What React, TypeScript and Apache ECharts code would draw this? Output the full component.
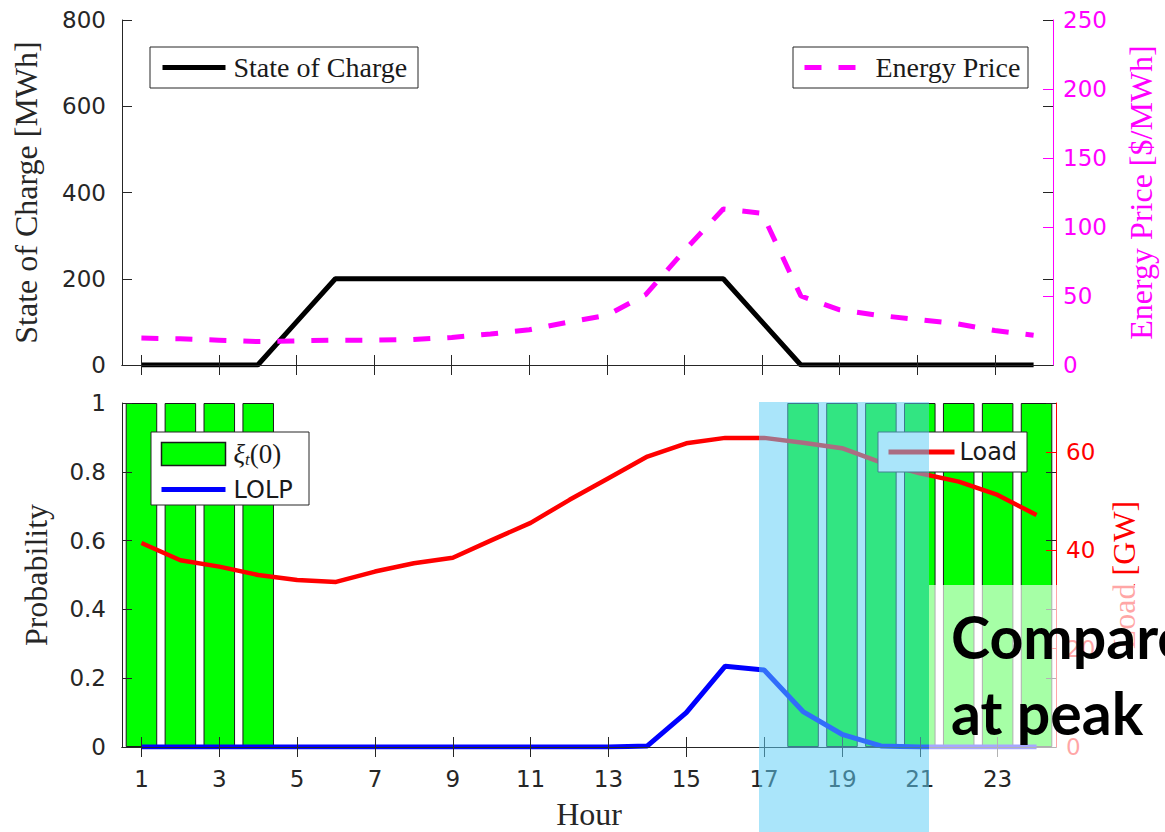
import React, { useEffect, useRef } from 'react';
import * as echarts from 'echarts';

const hours = ['1', '2', '3', '4', '5', '6', '7', '8', '9', '10', '11', '12', '13', '14', '15', '16', '17', '18', '19', '20', '21', '22', '23', '24'];
const stateOfCharge = [0, 0, 0, 0, 100, 200, 200, 200, 200, 200, 200, 200, 200, 200, 200, 200, 100, 0, 0, 0, 0, 0, 0, 0];
const energyPrice = [19.5, 19, 18, 17, 17.5, 18, 18, 18.5, 20, 22.5, 25.5, 31, 36, 51, 83, 113, 110, 50, 40, 36, 33, 30, 25, 21.5];
const xiZero = [1, 1, 1, 1, null, null, null, null, null, null, null, null, null, null, null, null, null, 1, 1, 1, 1, 1, 1, 1];
const lolp = [0, 0, 0, 0, 0, 0, 0, 0, 0, 0, 0, 0, 0, 0.003, 0.1, 0.235, 0.224, 0.103, 0.037, 0.003, 0, 0, 0, 0];
const load = [41.5, 38, 36.7, 35, 34, 33.6, 35.7, 37.4, 38.5, 42.1, 45.6, 50.3, 54.7, 59.1, 61.8, 62.9, 62.9, 61.9, 60.8, 57.9, 55.7, 54, 51.3, 47.2];

const DARK = '#262626';
const SANS = 'DejaVu Sans';
const SERIF = 'Liberation Serif';

function xAxisFor(gridIndex: number, position: string, showLabels: boolean, name?: string) {
  return {
    type: 'category',
    gridIndex,
    position,
    data: hours,
    boundaryGap: true,
    z: 3,
    axisLine: { show: true, lineStyle: { color: DARK, width: 1 } },
    axisTick: { show: true, inside: true, length: 10, interval: 1, alignWithLabel: true, lineStyle: { color: DARK, width: 1 } },
    axisLabel: { show: showLabels, interval: 1, margin: 20, fontFamily: SANS, fontSize: 23, color: DARK },
    splitLine: { show: false },
    name: name || '',
    nameLocation: 'middle',
    nameGap: 51,
    nameTextStyle: { fontFamily: SERIF, fontSize: 32, color: DARK },
  };
}

function yAxisFor(opts: any) {
  const color = opts.color || DARK;
  return {
    type: 'value',
    gridIndex: opts.gridIndex,
    position: opts.position,
    min: opts.min,
    max: opts.max,
    interval: opts.interval,
    z: 3,
    axisLine: { show: opts.showLine !== false, lineStyle: { color, width: 1 } },
    axisTick: { show: true, inside: true, length: 10, lineStyle: { color: opts.tickColor || color, width: 1 } },
    axisLabel: {
      show: opts.showLabels !== false,
      margin: opts.margin,
      fontFamily: SANS,
      fontSize: 23,
      color,
      formatter: opts.formatter,
    },
    splitLine: { show: false },
    name: opts.name || '',
    nameLocation: 'middle',
    nameGap: opts.nameGap,
    nameRotate: 90,
    nameTextStyle: { fontFamily: SERIF, fontSize: 32, color },
  };
}

export default function App() {
  const ref = useRef<HTMLDivElement>(null);

  useEffect(() => {
    if (!ref.current) return;
    const chart = echarts.init(ref.current, null, { renderer: 'svg' });

    const option: any = {
      animation: false,
      backgroundColor: '#ffffff',
      grid: [
        { left: 122, top: 20, width: 934, height: 345 },
        { left: 122, top: 403, width: 934, height: 344 },
      ],
      xAxis: [
        xAxisFor(0, 'bottom', false),
        xAxisFor(0, 'top', false),
        xAxisFor(1, 'bottom', true, 'Hour'),
        xAxisFor(1, 'top', false),
      ],
      yAxis: [
        yAxisFor({ gridIndex: 0, position: 'left', min: 0, max: 800, interval: 200, margin: 16, name: 'State of Charge [MWh]', nameGap: 80 }),
        yAxisFor({ gridIndex: 0, position: 'right', min: 0, max: 250, interval: 50, margin: 10, color: '#ff00ff', name: 'Energy Price [$/MWh]', nameGap: 72 }),
        yAxisFor({ gridIndex: 0, position: 'right', min: 0, max: 800, interval: 200, showLine: false, showLabels: false, tickColor: DARK }),
        yAxisFor({ gridIndex: 1, position: 'left', min: 0, max: 1, interval: 0.2, margin: 16, name: 'Probability', nameGap: 70 }),
        yAxisFor({
          gridIndex: 1, position: 'right', min: 0, max: 70, interval: 20, margin: 10, color: '#ff0000', name: 'Load [GW]', nameGap: 52,
          formatter: (v: number) => (v > 65 ? '' : String(v)),
        }),
        yAxisFor({ gridIndex: 1, position: 'right', min: 0, max: 1, interval: 0.2, showLine: false, showLabels: false, tickColor: DARK }),
      ],
      legend: [
        {
          left: 160, top: 52.5, padding: 0, selectedMode: false, z: 4,
          data: ['State of Charge'],
          itemWidth: 63, itemHeight: 14,
          lineStyle: { width: 5 },
          itemStyle: { opacity: 0 },
          textStyle: { fontFamily: SERIF, fontSize: 28, color: '#1a1a1a', lineHeight: 30, padding: [0, 0, 0, 3] },
        },
        {
          left: 802, top: 52.5, padding: 0, selectedMode: false, z: 4,
          data: ['Energy Price'],
          itemWidth: 63, itemHeight: 14,
          lineStyle: { width: 5 },
          itemStyle: { opacity: 0 },
          textStyle: { fontFamily: SERIF, fontSize: 28, color: '#1a1a1a', lineHeight: 30, padding: [0, 0, 0, 3] },
        },
        {
          left: 159, top: 440, padding: 0, selectedMode: false, z: 4, orient: 'vertical',
          data: [
            { name: 'ξt(0)', icon: 'rect', itemStyle: { color: '#00ff00', borderColor: '#1a1a1a', borderWidth: 1.5, opacity: 1 } },
            { name: 'LOLP', itemStyle: { opacity: 0 } },
          ],
          itemWidth: 64, itemHeight: 23, itemGap: 9.5,
          lineStyle: { width: 5 },
          formatter: (name: string) => (name === 'ξt(0)' ? '{x|ξ}{s|t}{p|(0)}' : name),
          textStyle: {
            fontFamily: SANS, fontSize: 24, color: '#1a1a1a', lineHeight: 23, padding: [0, 0, 0, 3],
            rich: {
              x: { fontFamily: SERIF, fontStyle: 'italic', fontSize: 27, lineHeight: 23, color: '#1a1a1a' },
              s: { fontFamily: SERIF, fontStyle: 'italic', fontSize: 17, lineHeight: 12, padding: [11, 0, 0, 0], color: '#1a1a1a' },
              p: { fontFamily: SERIF, fontSize: 27, lineHeight: 23, color: '#1a1a1a' },
            },
          },
        },
        {
          left: 886, top: 440, padding: 0, selectedMode: false, z: 4,
          data: ['Load'],
          itemWidth: 66, itemHeight: 24,
          lineStyle: { width: 5 },
          itemStyle: { opacity: 0 },
          textStyle: { fontFamily: SANS, fontSize: 24, color: '#1a1a1a', lineHeight: 24 },
        },
      ],
      series: [
        {
          name: 'State of Charge', type: 'line', xAxisIndex: 0, yAxisIndex: 0, data: stateOfCharge,
          symbol: 'none', lineStyle: { color: '#000000', width: 5 }, itemStyle: { color: '#000000' }, z: 2,
        },
        {
          name: 'Energy Price', type: 'line', xAxisIndex: 0, yAxisIndex: 1, data: energyPrice,
          symbol: 'none', lineStyle: { color: '#ff00ff', width: 5, type: [17, 17] }, itemStyle: { color: '#ff00ff' }, z: 2,
        },
        {
          name: 'ξt(0)', type: 'bar', xAxisIndex: 2, yAxisIndex: 3, data: xiZero, barWidth: '81%',
          itemStyle: { color: '#00ff00', borderColor: '#1a1a1a', borderWidth: 1 }, z: 1,
        },
        {
          name: 'Load', type: 'line', xAxisIndex: 2, yAxisIndex: 4, data: load,
          symbol: 'none', lineStyle: { color: '#ff0000', width: 4.5 }, itemStyle: { color: '#ff0000' }, z: 2,
        },
        {
          name: 'LOLP', type: 'line', xAxisIndex: 2, yAxisIndex: 3, data: lolp,
          symbol: 'none', lineStyle: { color: '#0000ff', width: 5 }, itemStyle: { color: '#0000ff' }, z: 2,
        },
      ],
      graphic: [
        { type: 'rect', z: 3, silent: true, shape: { x: 150, y: 47, width: 268, height: 41 }, style: { fill: '#ffffff', stroke: DARK, lineWidth: 1 } },
        { type: 'rect', z: 3, silent: true, shape: { x: 793, y: 47, width: 235, height: 41 }, style: { fill: '#ffffff', stroke: DARK, lineWidth: 1 } },
        { type: 'rect', z: 3, silent: true, shape: { x: 151, y: 432, width: 158, height: 73 }, style: { fill: '#ffffff', stroke: DARK, lineWidth: 1 } },
        { type: 'rect', z: 3, silent: true, shape: { x: 878, y: 432, width: 149, height: 40 }, style: { fill: '#ffffff', stroke: DARK, lineWidth: 1 } },
        { type: 'rect', z: 100, silent: true, shape: { x: 759, y: 402, width: 170, height: 430 }, style: { fill: 'rgba(94,205,245,0.53)' } },
        { type: 'rect', z: 100, silent: true, shape: { x: 929, y: 585, width: 236, height: 177 }, style: { fill: 'rgba(255,255,255,0.65)' } },
        { type: 'text', z: 101, silent: true, x: 951, y: 636, style: { text: 'Compare', fontFamily: 'Lato', fontWeight: 'bold', fontSize: 59, fill: '#000000', align: 'left', verticalAlign: 'middle' } },
        { type: 'text', z: 101, silent: true, x: 951, y: 712, style: { text: 'at peak', fontFamily: 'Lato', fontWeight: 'bold', fontSize: 59, fill: '#000000', align: 'left', verticalAlign: 'middle' } },
      ],
    };

    chart.setOption(option);
    return () => chart.dispose();
  }, []);

  return (
    <div
      ref={ref}
      style={{ position: 'fixed', left: 0, top: 0, width: 1165, height: 832, background: '#fff' }}
    />
  );
}
